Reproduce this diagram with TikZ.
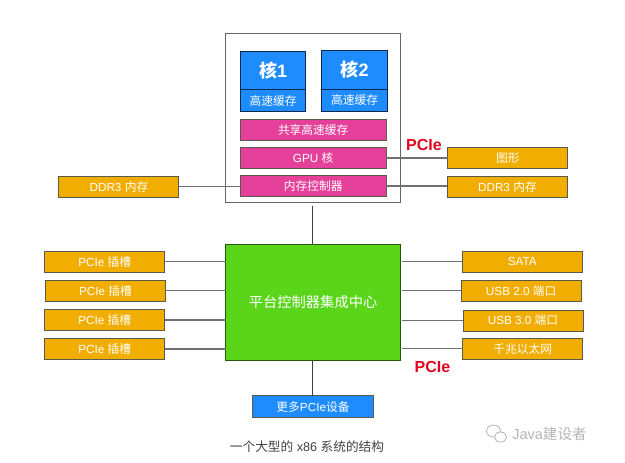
\documentclass[tikz,border=0pt]{standalone}
\usepackage{fontspec}
\setmainfont{Liberation Sans}
\newfontfamily\cjk{Noto Sans CJK SC}
\definecolor{coreblue}{HTML}{1E8CFF}
\definecolor{pinkbox}{HTML}{E6419A}
\definecolor{orangebox}{HTML}{F2AE00}
\definecolor{greenbox}{HTML}{5AD51A}
\definecolor{redlabel}{HTML}{E0051E}
\definecolor{edgegray}{HTML}{5A5A4A}
\definecolor{linkgray}{HTML}{707070}
\definecolor{markgray}{HTML}{B4B4B4}
\tikzset{
  x=0.75pt,y=-0.75pt,
  boxbase/.style={draw=edgegray,line width=0.75pt,text=white,inner sep=0pt,outer sep=0pt,font=\fontsize{8.8}{10}\selectfont},
  orangeb/.style={boxbase,fill=orangebox,minimum width=90pt,minimum height=15.75pt},
  pinkb/.style={boxbase,fill=pinkbox,minimum width=109.6pt,minimum height=16pt},
  coreb/.style={boxbase,draw=black!70!coreblue,fill=coreblue,minimum width=49.3pt,minimum height=28.6pt,font=\bfseries\fontsize{13.5}{15}\selectfont},
  cacheb/.style={boxbase,draw=black!70!coreblue,fill=coreblue,minimum width=49.3pt,minimum height=16.5pt},
  moreb/.style={boxbase,fill=coreblue,minimum width=90.5pt,minimum height=16pt},
  link/.style={draw=linkgray,line width=0.8pt},
  thick link/.style={draw=black!75,line width=1pt},
  redtext/.style={text=redlabel,inner sep=0pt,font=\bfseries\fontsize{12}{14}\selectfont},
}
\begin{document}
\begin{tikzpicture}
\useasboundingbox (0,0) rectangle (625,462);
% CPU frame
\node[draw=black!60,line width=0.8pt,fill=white,minimum width=131.4pt,minimum height=126.8pt,inner sep=0pt,outer sep=0pt] (cpu) at (313.1,118.2) {};
% cores
\node[coreb] (coreA) at (273.1,70.5) {{\cjk 核}1};
\node[cacheb] (cacheA) at (273.1,100.7) {\cjk 高速缓存};
\node[coreb] (coreB) at (354.6,70) {{\cjk 核}2};
\node[cacheb] (cacheB) at (354.6,100.5) {\cjk 高速缓存};
% pink bars
\node[pinkb] (shared) at (313.2,130) {\cjk 共享高速缓存};
\node[pinkb] (gpu) at (313.2,158) {GPU {\cjk 核}};
\node[pinkb] (mem) at (313.2,186) {\cjk 内存控制器};
% upper peripherals
\node[orangeb] (ddrL) at (118.9,186.9) {DDR3 {\cjk 内存}};
\node[orangeb] (gfx) at (507.8,158) {\cjk 图形};
\node[orangeb] (ddrR) at (507.4,187) {DDR3 {\cjk 内存}};
% hub
\node[boxbase,fill=greenbox,draw=black!60!greenbox,minimum width=131.4pt,minimum height=87.3pt,font=\fontsize{10.7}{12}\selectfont] (hub) at (313.1,302.5) {\cjk 平台控制器集成中心};
% left slots
\node[orangeb] (slotA) at (104.7,261.6) {PCIe {\cjk 插槽}};
\node[orangeb] (slotB) at (105.5,290.8) {PCIe {\cjk 插槽}};
\node[orangeb] (slotC) at (104.7,320) {PCIe {\cjk 插槽}};
\node[orangeb] (slotD) at (104.7,349) {PCIe {\cjk 插槽}};
% right devices
\node[orangeb] (sata) at (522.2,261.8) {SATA};
\node[orangeb] (usbA) at (521.2,290.7) {USB 2.0 {\cjk 端口}};
\node[orangeb] (usbB) at (523,320.5) {USB 3.0 {\cjk 端口}};
\node[orangeb] (gig) at (522.8,348.7) {\cjk 千兆以太网};
% bottom
\node[moreb] (more) at (313,406.6) {{\cjk 更多}PCIe{\cjk 设备}};
% connectors
\coordinate (gapT) at (312.7,206);
\coordinate (gapH) at (401.8,0);
\draw[link] (ddrL.east) -- (ddrL.east -| mem.west);
\draw[link] (gpu.east) -- (gfx.west |- gpu.east);
\draw[link] (mem.east) -- (ddrR.west |- mem.east);
\draw[thick link] (gapT) -- (gapT |- hub.north);
\draw[thick link] (gapT |- hub.south) -- (gapT |- more.north);
\foreach \s in {slotA,slotB,slotC,slotD} \draw[link] (\s.east) -- (hub.west |- \s.east);
\foreach \s in {sata,usbA,usbB,gig} \draw[link] (gapH |- \s.west) -- (\s.west);
% labels
\node[redtext] (pcieA) at (424,145) {PCIe};
\node[redtext] (pcieB) at (432.5,366.5) {PCIe};
\node[inner sep=0pt,text=black!75,font=\fontsize{9.5}{11}\selectfont] (cap) at (307,446.7) {{\cjk 一个大型的} x86 {\cjk 系统的结构}};
% watermark
\node[inner sep=0pt,anchor=west,text=markgray,font=\fontsize{10.9}{13}\selectfont] (mark) at (512,434) {Java{\cjk 建设者}};
\draw[markgray,line width=0.6pt,fill=white] (493.5,431) ellipse [x radius=7,y radius=6];
\draw[markgray,line width=0.6pt,fill=white] (500.5,437) ellipse [x radius=6,y radius=5];
\end{tikzpicture}
\end{document}
